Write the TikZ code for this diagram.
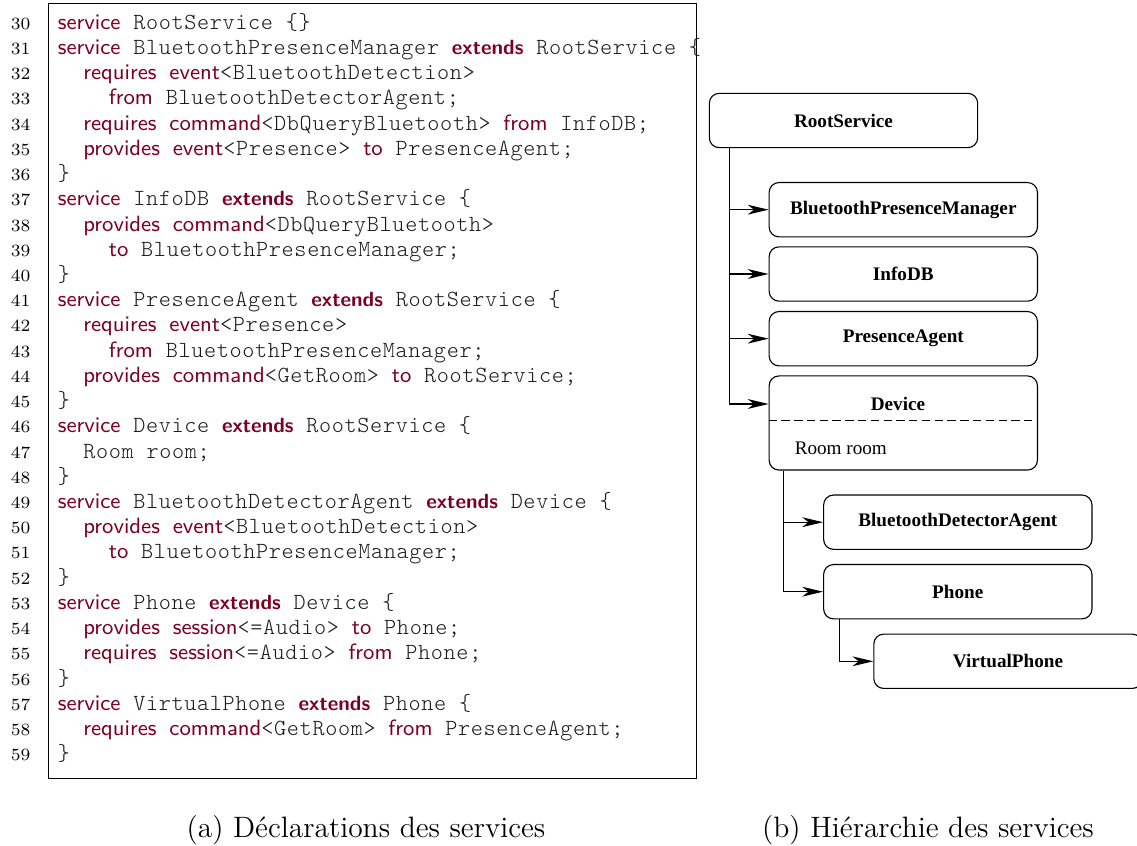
\documentclass[tikz,border=0pt]{standalone}
\usepackage{fontspec}
\usetikzlibrary{arrows.meta}
\newfontfamily\codefont[LetterSpace=2.8]{Latin Modern Mono Light}
\newfontfamily\boxfont{Liberation Serif}
\definecolor{kwred}{RGB}{125,0,35}
\newcommand\kw[1]{{\sffamily\fontsize{9}{10}\selectfont\color{kwred}#1}}
\newcommand\kwb[1]{{\sffamily\bfseries\fontsize{8.4}{10}\selectfont\color{kwred}#1}}
\tikzset{
  codeline/.style={anchor=base west, inner sep=0pt, text=black!90,
    font=\codefont\fontsize{9.4}{10}\selectfont},
  lineno/.style={anchor=base east, inner sep=0pt, font=\fontsize{7}{8}\selectfont},
  svc/.style={draw, line width=0.45pt, rounded corners=4pt, minimum width=109.2pt,
    minimum height=22.1pt, inner sep=0pt, font=\boxfont\bfseries\fontsize{7.8}{9}\selectfont},
  attr/.style={inner sep=0pt, font=\boxfont\fontsize{7.8}{9}\selectfont},
  inh/.style={line width=0.45pt, -{Stealth[length=8.5pt,width=4pt,inset=2.6pt]}},
  caption/.style={anchor=base, inner sep=0pt, font=\fontsize{12}{14}\selectfont},
}
\begin{document}
\begin{tikzpicture}[x=0.407pt, y=-0.407pt]
    \useasboundingbox (0,0) rectangle (1137,846);
    % (a) service declarations
    \draw[line width=0.45pt] (48.3,3.3) rectangle (696.7,778.3);
    \foreach \txt [count=\i from 0, evaluate=\i as \lnum using int(\i+30)] in {
        {\kw{service} RootService \{\}},
        {\kw{service} BluetoothPresenceManager \kwb{extends} RootService \{},
        {\ \ \kw{requires} \kw{event}<BluetoothDetection>},
        {\ \ \ \ \kw{from} BluetoothDetectorAgent;},
        {\ \ \kw{requires} \kw{command}<DbQueryBluetooth> \kw{from} InfoDB;},
        {\ \ \kw{provides} \kw{event}<Presence> \kw{to} PresenceAgent;},
        {\}},
        {\kw{service} InfoDB \kwb{extends} RootService \{},
        {\ \ \kw{provides} \kw{command}<DbQueryBluetooth>},
        {\ \ \ \ \kw{to} BluetoothPresenceManager;},
        {\}},
        {\kw{service} PresenceAgent \kwb{extends} RootService \{},
        {\ \ \kw{requires} \kw{event}<Presence>},
        {\ \ \ \ \kw{from} BluetoothPresenceManager;},
        {\ \ \kw{provides} \kw{command}<GetRoom> \kw{to} RootService;},
        {\}},
        {\kw{service} Device \kwb{extends} RootService \{},
        {\ \ Room room;},
        {\}},
        {\kw{service} BluetoothDetectorAgent \kwb{extends} Device \{},
        {\ \ \kw{provides} \kw{event}<BluetoothDetection>},
        {\ \ \ \ \kw{to} BluetoothPresenceManager;},
        {\}},
        {\kw{service} Phone \kwb{extends} Device \{},
        {\ \ \kw{provides} \kw{session}<=Audio> \kw{to} Phone;},
        {\ \ \kw{requires} \kw{session}<=Audio> \kw{from} Phone;},
        {\}},
        {\kw{service} VirtualPhone \kwb{extends} Phone \{},
        {\ \ \kw{requires} \kw{command}<GetRoom> \kw{from} PresenceAgent;},
        {\}}} {
        \node[lineno] (n\lnum) at (31, {29.3+25.22*\i}) {\lnum};
        \node[codeline] (l\lnum) at (57.3, {29.3+25.22*\i}) {\txt};
    }
    \node[caption] (capa) at (366,838) {(a) Déclarations des services};
    % (b) service hierarchy
    \node[svc] (root) at (843.5,120.5) {RootService};
    \node[svc] (bpm) at (903.3,209.7) {BluetoothPresenceManager};
    \node[svc] (infodb) at (903.3,274) {InfoDB};
    \node[svc] (pagent) at (903.3,338.7) {PresenceAgent};
    \node[svc, minimum height=38.3pt] (dev) at (903.3,423) {};
    \node[attr, font=\boxfont\bfseries\fontsize{7.8}{9}\selectfont] (devname) at (898,404) {Device};
    \node[attr, anchor=base west] (devattr) at (794.3,455) {Room room};
    \draw[line width=0.45pt, dash pattern=on 3.4pt off 1.8pt] (dev.west |- 0,420.7) -- (dev.east |- 0,420.7);
    \node[svc] (bda) at (957.8,522.2) {BluetoothDetectorAgent};
    \node[svc] (phone) at (957.8,591.7) {Phone};
    \node[svc] (vphone) at (1008,661.3) {VirtualPhone};
    \draw[inh] (root.south west) ++(20.7,0) |- (bpm.west);
    \draw[inh] (root.south west) ++(20.7,0) |- (infodb.west);
    \draw[inh] (root.south west) ++(20.7,0) |- (pagent.west);
    \draw[inh] (root.south west) ++(20.7,0) |- (dev.west |- devname);
    \draw[inh] (dev.south west) ++(14.7,0) |- (bda.west);
    \draw[inh] (dev.south west) ++(14.7,0) |- (phone.west);
    \draw[inh] (phone.south west) ++(16,0) |- (vphone.west);
    \node[caption] (capb) at (928,838) {(b) Hiérarchie des services};
\end{tikzpicture}
\end{document}
